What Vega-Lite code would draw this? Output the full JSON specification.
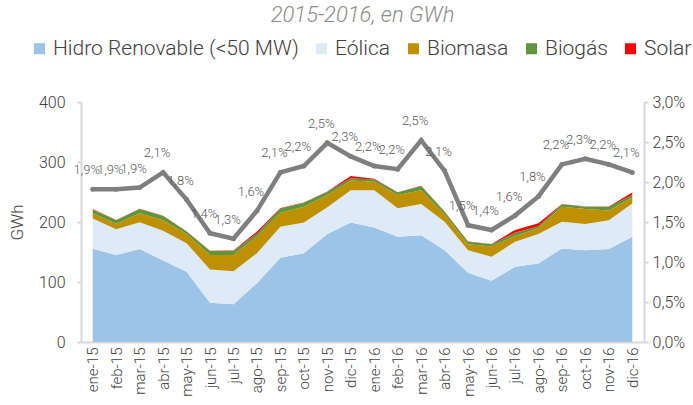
{
  "$schema": "https://vega.github.io/schema/vega-lite/v6.json",
  "width": 563,
  "height": 240,
  "autosize": {"type": "none"},
  "padding": {"left": 81, "top": 102, "right": 49, "bottom": 63},
  "background": "white",
  "config": {
    "locale": {"number": {"decimal": ",", "thousands": ".", "grouping": [3], "currency": ["", " €"]}},
    "font": "Roboto",
    "view": {"stroke": null},
    "axis": {"labelFont": "Roboto", "titleFont": "Roboto", "labelColor": "#595959", "titleColor": "#595959", "grid": false, "domainColor": "#D9D9D9", "domainWidth": 2, "tickColor": "#D9D9D9", "tickWidth": 2},
    "legend": {"labelFont": "Roboto", "labelColor": "#404040"}
  },
  "title": {"text": "2015-2016, en GWh", "font": "Roboto", "fontSize": 22, "fontStyle": "italic", "fontWeight": 300, "color": "#8C8C8C", "anchor": "middle", "offset": 11},
  "datasets": {
    "areas": [
      {"mes":"ene-15","tecnologia":"Hidro Renovable (<50 MW)","o":1,"gwh":155.5},{"mes":"ene-15","tecnologia":"Eólica","o":2,"gwh":50.5},{"mes":"ene-15","tecnologia":"Biomasa","o":3,"gwh":8.5},{"mes":"ene-15","tecnologia":"Biogás","o":4,"gwh":6.5},{"mes":"ene-15","tecnologia":"Solar","o":5,"gwh":0.5},
      {"mes":"feb-15","tecnologia":"Hidro Renovable (<50 MW)","o":1,"gwh":145},{"mes":"feb-15","tecnologia":"Eólica","o":2,"gwh":43},{"mes":"feb-15","tecnologia":"Biomasa","o":3,"gwh":9},{"mes":"feb-15","tecnologia":"Biogás","o":4,"gwh":6},{"mes":"feb-15","tecnologia":"Solar","o":5,"gwh":0.5},
      {"mes":"mar-15","tecnologia":"Hidro Renovable (<50 MW)","o":1,"gwh":155},{"mes":"mar-15","tecnologia":"Eólica","o":2,"gwh":44.5},{"mes":"mar-15","tecnologia":"Biomasa","o":3,"gwh":15},{"mes":"mar-15","tecnologia":"Biogás","o":4,"gwh":7},{"mes":"mar-15","tecnologia":"Solar","o":5,"gwh":0.5},
      {"mes":"abr-15","tecnologia":"Hidro Renovable (<50 MW)","o":1,"gwh":136},{"mes":"abr-15","tecnologia":"Eólica","o":2,"gwh":49.5},{"mes":"abr-15","tecnologia":"Biomasa","o":3,"gwh":17.5},{"mes":"abr-15","tecnologia":"Biogás","o":4,"gwh":7},{"mes":"abr-15","tecnologia":"Solar","o":5,"gwh":0.5},
      {"mes":"may-15","tecnologia":"Hidro Renovable (<50 MW)","o":1,"gwh":117},{"mes":"may-15","tecnologia":"Eólica","o":2,"gwh":47.5},{"mes":"may-15","tecnologia":"Biomasa","o":3,"gwh":15.5},{"mes":"may-15","tecnologia":"Biogás","o":4,"gwh":4},{"mes":"may-15","tecnologia":"Solar","o":5,"gwh":0.5},
      {"mes":"jun-15","tecnologia":"Hidro Renovable (<50 MW)","o":1,"gwh":65.5},{"mes":"jun-15","tecnologia":"Eólica","o":2,"gwh":55.5},{"mes":"jun-15","tecnologia":"Biomasa","o":3,"gwh":24},{"mes":"jun-15","tecnologia":"Biogás","o":4,"gwh":6.5},{"mes":"jun-15","tecnologia":"Solar","o":5,"gwh":0.5},
      {"mes":"jul-15","tecnologia":"Hidro Renovable (<50 MW)","o":1,"gwh":63},{"mes":"jul-15","tecnologia":"Eólica","o":2,"gwh":55},{"mes":"jul-15","tecnologia":"Biomasa","o":3,"gwh":27},{"mes":"jul-15","tecnologia":"Biogás","o":4,"gwh":6.5},{"mes":"jul-15","tecnologia":"Solar","o":5,"gwh":1},
      {"mes":"ago-15","tecnologia":"Hidro Renovable (<50 MW)","o":1,"gwh":98},{"mes":"ago-15","tecnologia":"Eólica","o":2,"gwh":50},{"mes":"ago-15","tecnologia":"Biomasa","o":3,"gwh":28},{"mes":"ago-15","tecnologia":"Biogás","o":4,"gwh":5},{"mes":"ago-15","tecnologia":"Solar","o":5,"gwh":3},
      {"mes":"sep-15","tecnologia":"Hidro Renovable (<50 MW)","o":1,"gwh":140.5},{"mes":"sep-15","tecnologia":"Eólica","o":2,"gwh":51.5},{"mes":"sep-15","tecnologia":"Biomasa","o":3,"gwh":23.5},{"mes":"sep-15","tecnologia":"Biogás","o":4,"gwh":7},{"mes":"sep-15","tecnologia":"Solar","o":5,"gwh":1},
      {"mes":"oct-15","tecnologia":"Hidro Renovable (<50 MW)","o":1,"gwh":148},{"mes":"oct-15","tecnologia":"Eólica","o":2,"gwh":51},{"mes":"oct-15","tecnologia":"Biomasa","o":3,"gwh":26.5},{"mes":"oct-15","tecnologia":"Biogás","o":4,"gwh":6.5},{"mes":"oct-15","tecnologia":"Solar","o":5,"gwh":0.5},
      {"mes":"nov-15","tecnologia":"Hidro Renovable (<50 MW)","o":1,"gwh":180},{"mes":"nov-15","tecnologia":"Eólica","o":2,"gwh":44.5},{"mes":"nov-15","tecnologia":"Biomasa","o":3,"gwh":20.5},{"mes":"nov-15","tecnologia":"Biogás","o":4,"gwh":5.5},{"mes":"nov-15","tecnologia":"Solar","o":5,"gwh":0.5},
      {"mes":"dic-15","tecnologia":"Hidro Renovable (<50 MW)","o":1,"gwh":199},{"mes":"dic-15","tecnologia":"Eólica","o":2,"gwh":54},{"mes":"dic-15","tecnologia":"Biomasa","o":3,"gwh":16},{"mes":"dic-15","tecnologia":"Biogás","o":4,"gwh":4},{"mes":"dic-15","tecnologia":"Solar","o":5,"gwh":3.5},
      {"mes":"ene-16","tecnologia":"Hidro Renovable (<50 MW)","o":1,"gwh":191},{"mes":"ene-16","tecnologia":"Eólica","o":2,"gwh":62},{"mes":"ene-16","tecnologia":"Biomasa","o":3,"gwh":14},{"mes":"ene-16","tecnologia":"Biogás","o":4,"gwh":4},{"mes":"ene-16","tecnologia":"Solar","o":5,"gwh":1},
      {"mes":"feb-16","tecnologia":"Hidro Renovable (<50 MW)","o":1,"gwh":175.5},{"mes":"feb-16","tecnologia":"Eólica","o":2,"gwh":47.5},{"mes":"feb-16","tecnologia":"Biomasa","o":3,"gwh":22},{"mes":"feb-16","tecnologia":"Biogás","o":4,"gwh":4},{"mes":"feb-16","tecnologia":"Solar","o":5,"gwh":0.5},
      {"mes":"mar-16","tecnologia":"Hidro Renovable (<50 MW)","o":1,"gwh":178},{"mes":"mar-16","tecnologia":"Eólica","o":2,"gwh":52},{"mes":"mar-16","tecnologia":"Biomasa","o":3,"gwh":23},{"mes":"mar-16","tecnologia":"Biogás","o":4,"gwh":7},{"mes":"mar-16","tecnologia":"Solar","o":5,"gwh":0.5},
      {"mes":"abr-16","tecnologia":"Hidro Renovable (<50 MW)","o":1,"gwh":153},{"mes":"abr-16","tecnologia":"Eólica","o":2,"gwh":47.5},{"mes":"abr-16","tecnologia":"Biomasa","o":3,"gwh":12.5},{"mes":"abr-16","tecnologia":"Biogás","o":4,"gwh":4},{"mes":"abr-16","tecnologia":"Solar","o":5,"gwh":0.5},
      {"mes":"may-16","tecnologia":"Hidro Renovable (<50 MW)","o":1,"gwh":115.5},{"mes":"may-16","tecnologia":"Eólica","o":2,"gwh":37.5},{"mes":"may-16","tecnologia":"Biomasa","o":3,"gwh":10},{"mes":"may-16","tecnologia":"Biogás","o":4,"gwh":4},{"mes":"may-16","tecnologia":"Solar","o":5,"gwh":0.5},
      {"mes":"jun-16","tecnologia":"Hidro Renovable (<50 MW)","o":1,"gwh":102},{"mes":"jun-16","tecnologia":"Eólica","o":2,"gwh":40},{"mes":"jun-16","tecnologia":"Biomasa","o":3,"gwh":17},{"mes":"jun-16","tecnologia":"Biogás","o":4,"gwh":4},{"mes":"jun-16","tecnologia":"Solar","o":5,"gwh":0.5},
      {"mes":"jul-16","tecnologia":"Hidro Renovable (<50 MW)","o":1,"gwh":125.5},{"mes":"jul-16","tecnologia":"Eólica","o":2,"gwh":41.5},{"mes":"jul-16","tecnologia":"Biomasa","o":3,"gwh":9.7},{"mes":"jul-16","tecnologia":"Biogás","o":4,"gwh":5.3},{"mes":"jul-16","tecnologia":"Solar","o":5,"gwh":4.7},
      {"mes":"ago-16","tecnologia":"Hidro Renovable (<50 MW)","o":1,"gwh":131},{"mes":"ago-16","tecnologia":"Eólica","o":2,"gwh":49},{"mes":"ago-16","tecnologia":"Biomasa","o":3,"gwh":9.5},{"mes":"ago-16","tecnologia":"Biogás","o":4,"gwh":3.5},{"mes":"ago-16","tecnologia":"Solar","o":5,"gwh":4.8},
      {"mes":"sep-16","tecnologia":"Hidro Renovable (<50 MW)","o":1,"gwh":156},{"mes":"sep-16","tecnologia":"Eólica","o":2,"gwh":44.5},{"mes":"sep-16","tecnologia":"Biomasa","o":3,"gwh":25},{"mes":"sep-16","tecnologia":"Biogás","o":4,"gwh":4},{"mes":"sep-16","tecnologia":"Solar","o":5,"gwh":0.5},
      {"mes":"oct-16","tecnologia":"Hidro Renovable (<50 MW)","o":1,"gwh":153},{"mes":"oct-16","tecnologia":"Eólica","o":2,"gwh":43.7},{"mes":"oct-16","tecnologia":"Biomasa","o":3,"gwh":25},{"mes":"oct-16","tecnologia":"Biogás","o":4,"gwh":3.8},{"mes":"oct-16","tecnologia":"Solar","o":5,"gwh":0.5},
      {"mes":"nov-16","tecnologia":"Hidro Renovable (<50 MW)","o":1,"gwh":155},{"mes":"nov-16","tecnologia":"Eólica","o":2,"gwh":48},{"mes":"nov-16","tecnologia":"Biomasa","o":3,"gwh":16},{"mes":"nov-16","tecnologia":"Biogás","o":4,"gwh":6.5},{"mes":"nov-16","tecnologia":"Solar","o":5,"gwh":0.5},
      {"mes":"dic-16","tecnologia":"Hidro Renovable (<50 MW)","o":1,"gwh":175.5},{"mes":"dic-16","tecnologia":"Eólica","o":2,"gwh":55.5},{"mes":"dic-16","tecnologia":"Biomasa","o":3,"gwh":10},{"mes":"dic-16","tecnologia":"Biogás","o":4,"gwh":4},{"mes":"dic-16","tecnologia":"Solar","o":5,"gwh":4}
    ],
    "cuota": [
      {"mes":"ene-15","pct":0.0191},{"mes":"feb-15","pct":0.0191},{"mes":"mar-15","pct":0.0193},{"mes":"abr-15","pct":0.0212},
      {"mes":"may-15","pct":0.0178},{"mes":"jun-15","pct":0.0136},{"mes":"jul-15","pct":0.0129},{"mes":"ago-15","pct":0.0164},
      {"mes":"sep-15","pct":0.0212},{"mes":"oct-15","pct":0.0220},{"mes":"nov-15","pct":0.0249},{"mes":"dic-15","pct":0.0232},
      {"mes":"ene-16","pct":0.0220},{"mes":"feb-16","pct":0.0216},{"mes":"mar-16","pct":0.0252},{"mes":"abr-16","pct":0.0214},
      {"mes":"may-16","pct":0.0146},{"mes":"jun-16","pct":0.0140},{"mes":"jul-16","pct":0.0158},{"mes":"ago-16","pct":0.0182},
      {"mes":"sep-16","pct":0.0222},{"mes":"oct-16","pct":0.0229},{"mes":"nov-16","pct":0.0222},{"mes":"dic-16","pct":0.0212}
    ]
  },
  "encoding": {
    "x": {
      "field": "mes", "type": "ordinal",
      "scale": {"type": "point", "padding": 0.5, "domain": ["ene-15","feb-15","mar-15","abr-15","may-15","jun-15","jul-15","ago-15","sep-15","oct-15","nov-15","dic-15","ene-16","feb-16","mar-16","abr-16","may-16","jun-16","jul-16","ago-16","sep-16","oct-16","nov-16","dic-16"]},
      "axis": {"title": null, "labelAngle": -90, "labelFontSize": 15, "labelFontWeight": 300, "ticks": false, "labelPadding": 5, "labelColor": "#404040"}
    }
  },
  "layer": [
    {
      "data": {"name": "areas"},
      "mark": {"type": "area", "opacity": 1},
      "encoding": {
        "y": {"field": "gwh", "type": "quantitative", "stack": "zero", "scale": {"domain": [0, 400]},
          "axis": {"title": "GWh", "values": [0, 100, 200, 300, 400], "labelFontSize": 16, "labelFontWeight": 300, "titleFontSize": 17, "titleFontWeight": 300, "tickSize": 4, "labelPadding": 12, "titlePadding": 12, "labelColor": "#404040", "titleColor": "#404040"}},
        "color": {"field": "tecnologia", "type": "nominal",
          "scale": {"domain": ["Hidro Renovable (<50 MW)", "Eólica", "Biomasa", "Biogás", "Solar"], "range": ["#9DC3E6", "#DEEBF7", "#BF9000", "#5E963B", "#FF0000"]},
          "legend": {"title": null, "orient": "none", "legendX": -52, "legendY": -64, "direction": "horizontal", "columns": 5, "symbolType": "square", "symbolSize": 121, "symbolStrokeWidth": 0, "labelFontSize": 21, "labelFontWeight": 300, "labelOffset": 3, "columnPadding": 12, "labelLimit": 400}},
        "order": {"field": "o", "type": "quantitative"}
      }
    },
    {
      "data": {"name": "cuota"},
      "layer": [
        {"mark": {"type": "line", "color": "#7F7F7F", "strokeWidth": 4.5}, "encoding": {}},
        {"mark": {"type": "point", "filled": true, "color": "#7F7F7F", "size": 25, "opacity": 1}, "encoding": {}},
        {"mark": {"type": "text", "dy": -19, "dx": -6, "fontSize": 13, "fontWeight": 300, "color": "#595959", "font": "Roboto"},
          "encoding": {"text": {"field": "pct", "type": "quantitative", "format": ".1%"}}}
      ],
      "encoding": {
        "y": {"field": "pct", "type": "quantitative", "scale": {"domain": [0, 0.03]},
          "axis": {"orient": "right", "title": null, "format": ".1%", "values": [0, 0.005, 0.01, 0.015, 0.02, 0.025, 0.03], "labelFontSize": 16, "labelFontWeight": 300, "tickSize": 4, "labelPadding": 4, "labelColor": "#404040"}}
      }
    }
  ],
  "resolve": {"scale": {"y": "independent"}}
}
